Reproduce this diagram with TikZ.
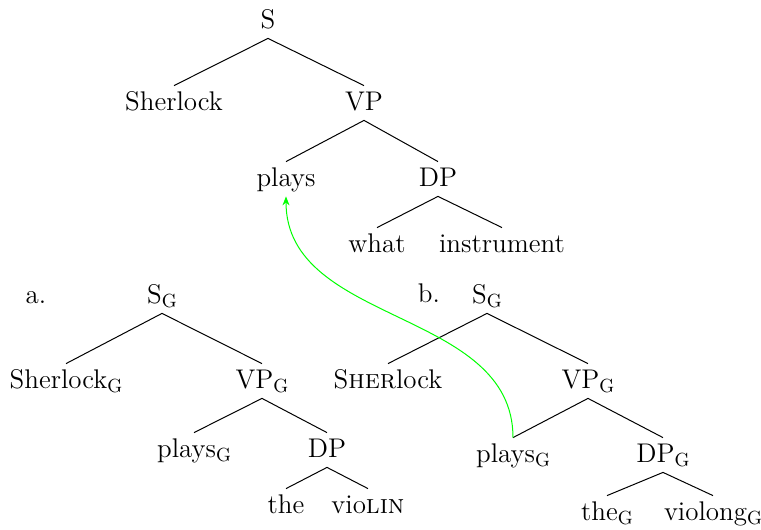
\documentclass[tikz,border=0pt]{standalone}
\usetikzlibrary{arrows.meta}
\newcommand{\subG}{\raisebox{-2.2pt}{\fontsize{9.5}{10}\selectfont G}}
\begin{document}
\begin{tikzpicture}[x=0.5pt,y=-0.5pt,
  lbl/.style={anchor=base,inner xsep=0pt,inner ysep=0pt,text height=12pt,text depth=5pt,font=\fontsize{13.5}{16}\selectfont},
  edge/.style={line width=0.5pt},
  mv/.style={green,line width=0.5pt,-{Stealth[length=4.5pt,width=3.5pt]}}]
\useasboundingbox (0,0) rectangle (761,530);
% top tree
\node[lbl] (S) at (268,28) {S};
\node[lbl] (Sher) at (174,110) {Sherlock};
\node[lbl] (VP) at (364,110) {VP};
\node[lbl] (plays) at (286,186) {plays};
\node[lbl] (DP) at (438,186) {DP};
\node[lbl] (what) at (377,252) {what};
\node[lbl] (instr) at (502,252) {instrument};
\draw[edge] (Sher.north) -- (S.south) -- (VP.north);
\draw[edge] (plays.north) -- (VP.south) -- (DP.north);
\draw[edge] (what.north) -- (DP.south) -- (instr.north);
% tree a
\node[lbl] (la) at (36,303) {a.};
\node[lbl] (aS) at (162,303) {S\subG};
\node[lbl] (aSher) at (66,388) {Sherlock\subG};
\node[lbl] (aVP) at (262,388) {VP\subG};
\node[lbl] (aplays) at (194,457) {plays\subG};
\node[lbl] (aDP) at (327,457) {DP};
\node[lbl] (athe) at (286,513) {the};
\node[lbl] (avio) at (368,513) {vio\textsc{lin}};
\draw[edge] (aSher.north) -- (aS.south) -- (aVP.north);
\draw[edge] (aplays.north) -- (aVP.south) -- (aDP.north);
\draw[edge] (athe.north) -- (aDP.south) -- (avio.north);
% tree b
\node[lbl] (lb) at (429,302) {b.};
\node[lbl] (bS) at (487,303) {S\subG};
\node[lbl] (bSher) at (388,388) {S\textsc{her}lock};
\node[lbl] (bVP) at (588,388) {VP\subG};
\node[lbl] (bplays) at (513,462) {plays\subG};
\node[lbl] (bDP) at (663,462) {DP\subG};
\node[lbl] (bthe) at (607,520) {the\subG};
\node[lbl] (bvio) at (713,520) {violong\subG};
\draw[edge] (bSher.north) -- (bS.south) -- (bVP.north);
\draw[edge] (bplays.north) -- (bVP.south) -- (bDP.north);
\draw[edge] (bthe.north) -- (bDP.south) -- (bvio.north);
% movement arrow
\draw[mv] (bplays.north) to[out=90,in=-90] (plays.south);
\end{tikzpicture}
\end{document}
